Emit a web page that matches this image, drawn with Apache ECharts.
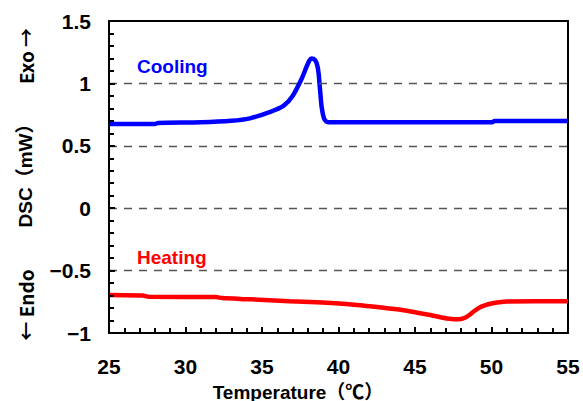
<!DOCTYPE html>
<html><head><meta charset="utf-8">
<script src="https://cdn.jsdelivr.net/npm/echarts@6/dist/echarts.min.js"></script>
<style>html,body{margin:0;padding:0;background:#fff}#c{width:583px;height:401px}</style>
</head><body><div id="c"></div>
<script>
const coolingT = [25, 28.0, 28.2, 31, 33, 34.2, 35.5, 36.4, 37.0, 37.6, 37.9, 38.1, 38.24, 38.45, 38.6, 38.7, 38.8, 38.9, 39.05, 39.2, 39.4, 45, 50.0, 50.2, 55];
const coolingV = [0.675, 0.675, 0.683, 0.688, 0.70, 0.72, 0.77, 0.82, 0.90, 1.04, 1.13, 1.185, 1.20, 1.19, 1.15, 1.08, 0.94, 0.81, 0.72, 0.695, 0.688, 0.688, 0.688, 0.698, 0.698];
const heatingT = [25, 27.2, 27.6, 32.0, 32.4, 34.2, 36.8, 38.6, 40.5, 41.6, 43.8, 46.0, 46.6, 47.1, 47.6, 48.0, 48.3, 48.6, 48.9, 49.2, 49.6, 50.0, 50.5, 51.0, 55];
const heatingV = [-0.696, -0.70, -0.71, -0.712, -0.72, -0.73, -0.746, -0.754, -0.768, -0.78, -0.81, -0.856, -0.872, -0.884, -0.89, -0.888, -0.876, -0.852, -0.822, -0.797, -0.777, -0.764, -0.753, -0.747, -0.746];
const xTicks = [25, 30, 35, 40, 45, 50, 55];
const yTicks = [-1, -0.5, 0, 0.5, 1, 1.5];

const font = 'Liberation Sans, Noto Sans CJK JP, sans-serif';
const cjk = 'Noto Sans CJK JP, sans-serif';
const chart = echarts.init(document.getElementById('c'), null, {renderer: 'svg'});
const zip = (a, b) => a.map((v, i) => [v, b[i]]);
chart.setOption({
  animation: false,
  grid: [{left: 109, right: 15, top: 21, bottom: 68}],
  xAxis: [{
    gridIndex: 0, type: 'value', min: xTicks[0], max: xTicks[xTicks.length - 1], interval: 5, z: 10,
    axisLine: {show: true, onZero: false, lineStyle: {color: '#000', width: 2}},
    axisTick: {show: true, inside: true, length: 6, lineStyle: {color: '#000', width: 2}},
    minorTick: {show: true, splitNumber: 5, length: 5, lineStyle: {color: '#000', width: 2}},
    splitLine: {show: false},
    axisLabel: {margin: 23, fontSize: 21, fontWeight: 'bold', color: '#000', fontFamily: font}
  }, {
    gridIndex: 0, type: 'value', position: 'top', min: xTicks[0], max: xTicks[xTicks.length - 1],
    axisLine: {show: true, onZero: false, lineStyle: {color: '#000', width: 2}},
    axisTick: {show: false}, axisLabel: {show: false}, splitLine: {show: false}
  }],
  yAxis: [{
    gridIndex: 0, type: 'value', min: yTicks[0], max: yTicks[yTicks.length - 1], interval: 0.5, z: 10,
    axisLine: {show: true, onZero: false, lineStyle: {color: '#000', width: 2}},
    axisTick: {show: true, inside: true, length: 6, lineStyle: {color: '#000', width: 2}},
    minorTick: {show: true, splitNumber: 5, length: 5, lineStyle: {color: '#000', width: 2}},
    splitLine: {show: true, showMinLine: false, showMaxLine: false, lineStyle: {color: '#555', type: [8, 7], width: 1.3}},
    axisLabel: {margin: 18, fontSize: 21, fontWeight: 'bold', color: '#000', fontFamily: font,
      formatter: v => String(v).replace('-', '\u2212')}
  }, {
    gridIndex: 0, type: 'value', position: 'right', min: yTicks[0], max: yTicks[yTicks.length - 1],
    axisLine: {show: true, onZero: false, lineStyle: {color: '#000', width: 2}},
    axisTick: {show: false}, axisLabel: {show: false}, splitLine: {show: false}
  }],
  series: [
    {type: 'line', xAxisIndex: 0, yAxisIndex: 0, data: zip(coolingT, coolingV), showSymbol: false, smooth: 0.25,
     lineStyle: {color: '#0000ff', width: 4.5}},
    {type: 'line', xAxisIndex: 0, yAxisIndex: 0, data: zip(heatingT, heatingV), showSymbol: false, smooth: 0.25,
     lineStyle: {color: '#ff0000', width: 4.5}}
  ],
  graphic: [
    {type: 'text', left: 137, top: 57, style: {text: 'Cooling', fill: '#0000ff', font: 'bold 19px ' + font}},
    {type: 'text', left: 137, top: 248, style: {text: 'Heating', fill: '#ff0000', font: 'bold 19px ' + font}},
    {type: 'text', x: 25, y: 56, rotation: Math.PI / 2, style: {text: 'Exo \u2192', fill: '#000', font: 'bold 19px ' + cjk, align: 'center', verticalAlign: 'middle'}},
    {type: 'text', x: 25, y: 171, rotation: Math.PI / 2, style: {text: 'DSC\uff08mW\uff09', fill: '#000', font: 'bold 19px ' + font, align: 'center', verticalAlign: 'middle'}},
    {type: 'text', x: 25, y: 305, rotation: Math.PI / 2, style: {text: '\u2190 Endo', fill: '#000', font: 'bold 19px ' + cjk, align: 'center', verticalAlign: 'middle'}},
    {type: 'text', x: 298, y: 392, style: {text: 'Temperature\uff08\u2103\uff09', fill: '#000', font: 'bold 19px ' + font, align: 'center', verticalAlign: 'middle'}}
  ]
});
</script></body></html>
